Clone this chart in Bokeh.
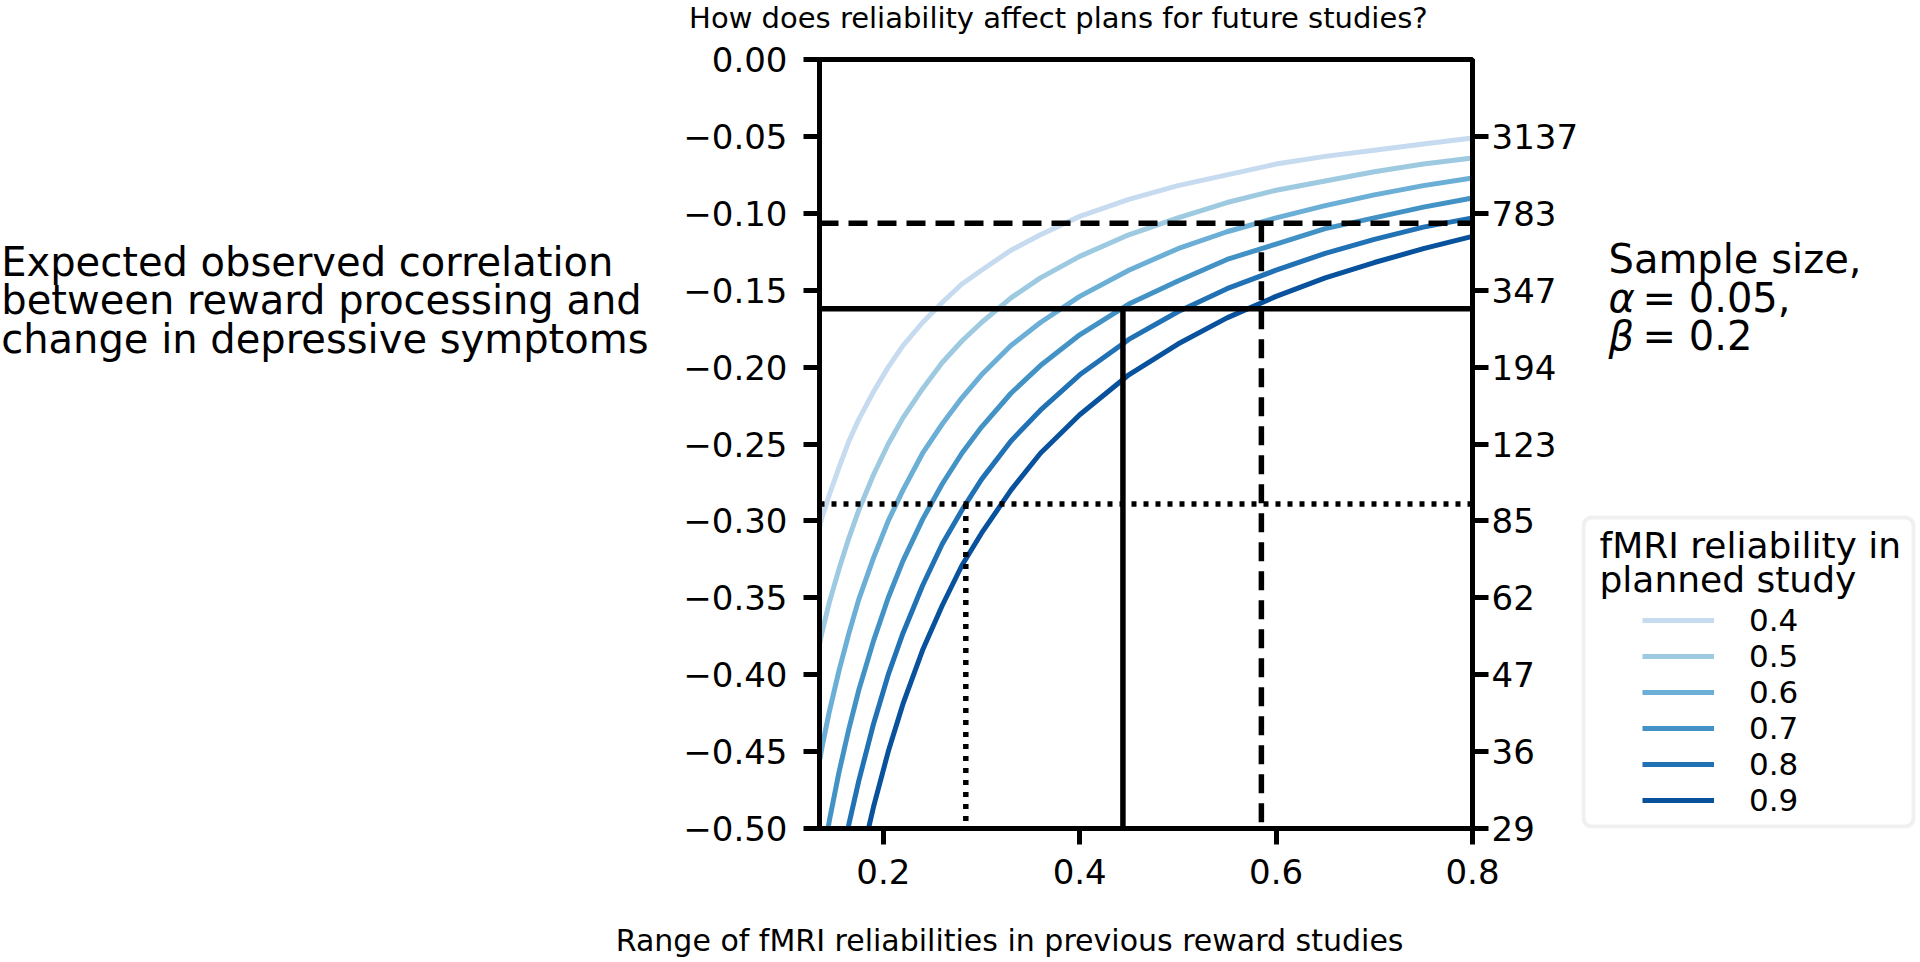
from bokeh.plotting import figure
from bokeh.layouts import row
from bokeh.models import (Range1d, LinearAxis, FixedTicker, Legend, LegendItem,
                          Label, BoxAnnotation)
from bokeh.core.properties import value
from bokeh.embed import file_html
from bokeh.resources import INLINE

# ---------------- data ----------------
prev_reliability = [0.135, 0.137, 0.145, 0.155, 0.165, 0.175, 0.19, 0.205, 0.22, 0.24, 0.26,
                    0.28, 0.30, 0.33, 0.36, 0.40, 0.45, 0.50, 0.55, 0.60, 0.65,
                    0.70, 0.75, 0.80]

corr_rel_04 = [-0.304, -0.299, -0.283, -0.265, -0.248, -0.234, -0.216, -0.200, -0.186, -0.171,
               -0.158, -0.146, -0.137, -0.124, -0.114, -0.102, -0.091, -0.082, -0.075, -0.068,
               -0.063, -0.059, -0.055, -0.051]
corr_rel_05 = [-0.380, -0.374, -0.353, -0.331, -0.311, -0.293, -0.270, -0.250, -0.233, -0.214,
               -0.197, -0.183, -0.171, -0.155, -0.142, -0.128, -0.114, -0.103, -0.093, -0.085,
               -0.079, -0.073, -0.068, -0.064]
corr_rel_06 = [-0.456, -0.449, -0.424, -0.397, -0.373, -0.351, -0.324, -0.300, -0.280, -0.256,
               -0.237, -0.220, -0.205, -0.186, -0.171, -0.154, -0.137, -0.123, -0.112, -0.103,
               -0.095, -0.088, -0.082, -0.077]
corr_rel_07 = [-0.531, -0.524, -0.495, -0.463, -0.435, -0.410, -0.378, -0.350, -0.326, -0.299,
               -0.276, -0.256, -0.239, -0.217, -0.199, -0.179, -0.159, -0.144, -0.130, -0.120,
               -0.110, -0.103, -0.096, -0.090]
corr_rel_08 = [-0.607, -0.599, -0.566, -0.529, -0.497, -0.469, -0.432, -0.400, -0.373, -0.342,
               -0.315, -0.293, -0.273, -0.248, -0.228, -0.205, -0.182, -0.164, -0.149, -0.137,
               -0.126, -0.117, -0.109, -0.103]
corr_rel_09 = [-0.683, -0.673, -0.636, -0.595, -0.559, -0.527, -0.486, -0.450, -0.419, -0.384,
               -0.355, -0.329, -0.308, -0.280, -0.256, -0.231, -0.205, -0.185, -0.168, -0.154,
               -0.142, -0.132, -0.123, -0.115]

planned_labels = ["0.4", "0.5", "0.6", "0.7", "0.8", "0.9"]
curve_colors = ["#c6dbef", "#9ecae1", "#6baed6", "#4292c6", "#2171b5", "#08519c"]

y_ticks = [0.0, -0.05, -0.10, -0.15, -0.20, -0.25, -0.30, -0.35, -0.40, -0.45, -0.50]
y_tick_labels = ["0.00", "\u22120.05", "\u22120.10", "\u22120.15", "\u22120.20", "\u22120.25",
                 "\u22120.30", "\u22120.35", "\u22120.40", "\u22120.45", "\u22120.50"]
n_ticks = [-0.05, -0.10, -0.15, -0.20, -0.25, -0.30, -0.35, -0.40, -0.45, -0.50]
n_tick_labels = ["3137", "783", "347", "194", "123", "85", "62", "47", "36", "29"]
x_ticks = [0.2, 0.4, 0.6, 0.8]
x_tick_labels = ["0.2", "0.4", "0.6", "0.8"]

# reference lines: (correlation level, reliability where it meets a curve)
solid_corr, solid_rel = -0.162, 0.444
dashed_corr, dashed_rel = -0.1065, 0.585
dotted_corr, dotted_rel = -0.289, 0.284

title_text = "How does reliability affect plans for future studies?"
xlabel_text = "Range of fMRI reliabilities in previous reward studies"
ylabel_text = ("Expected observed correlation\n"
               "between reward processing and\n"
               "change in depressive symptoms")
legend_title_lines = ["fMRI reliability in", "planned study"]

X_MIN, X_MAX = 0.135, 0.8
Y_MIN, Y_MAX = -0.5, 0.0

# ---------------- layout (page pixels) ----------------
H = 962
MAIN_R = 1581         # right edge of main figure
FL, FR, FT, FB = 819, 1475, 59, 828   # frame edges (page pixels)
FONT = "DejaVu Sans"


def px_x(page_x):
    return X_MIN + (page_x - FL) * (X_MAX - X_MIN) / (FR - FL)


def px_y(page_y):
    return Y_MAX - (page_y - FT) * (Y_MAX - Y_MIN) / (FB - FT)


# ---------------- main plot ----------------
p = figure(width=MAIN_R, height=H, output_backend="svg", toolbar_location=None,
           x_range=Range1d(X_MIN, X_MAX), y_range=Range1d(Y_MIN, Y_MAX),
           x_axis_location="below", y_axis_location="left",
           min_border_left=FL, min_border_right=MAIN_R - FR,
           min_border_top=FT, min_border_bottom=H - FB)
p.title.visible = False
p.grid.visible = False
p.background_fill_color = "white"
p.border_fill_color = "white"
p.outline_line_color = "black"
p.outline_line_width = 5

right_axis = LinearAxis()
p.add_layout(right_axis, "right")

p.xaxis.ticker = FixedTicker(ticks=x_ticks)
p.xaxis.major_label_overrides = dict(zip(x_ticks, x_tick_labels))
p.yaxis[0].ticker = FixedTicker(ticks=y_ticks)
p.yaxis[0].major_label_overrides = dict(zip(y_ticks, y_tick_labels))
right_axis.ticker = FixedTicker(ticks=n_ticks)
right_axis.major_label_overrides = dict(zip(n_ticks, n_tick_labels))

for ax in [p.xaxis[0], p.yaxis[0], right_axis]:
    ax.axis_line_width = 5
    ax.axis_line_color = "black"
    ax.major_tick_line_width = 5
    ax.major_tick_line_color = "black"
    ax.major_tick_out = 16
    ax.major_tick_in = 0
    ax.minor_tick_line_color = None
    ax.major_label_text_font = FONT
    ax.major_label_text_font_size = "34px"
    ax.major_label_text_color = "black"
p.xaxis.major_label_standoff = 14
p.yaxis[0].major_label_standoff = 16
right_axis.major_label_standoff = 3

series = [corr_rel_04, corr_rel_05, corr_rel_06, corr_rel_07, corr_rel_08, corr_rel_09]
for vals, col in zip(series, curve_colors):
    p.line(prev_reliability, vals, line_color=col, line_width=5)

for corr, rel, dash in [(dashed_corr, dashed_rel, "19 10"),
                        (solid_corr, solid_rel, "solid"),
                        (dotted_corr, dotted_rel, "5 7")]:
    p.line([X_MIN, X_MAX], [corr, corr], line_color="black", line_width=5.5, line_dash=dash)
    p.line([rel, rel], [corr, Y_MIN], line_color="black", line_width=5.5, line_dash=dash)


def side_label(text, page_x, page_y, size, side, align="left", line_height=1.2):
    p.add_layout(Label(x=px_x(page_x), y=px_y(page_y), text=text, text_font=FONT,
                       text_font_size=size, text_color="black", text_align=align,
                       text_baseline="middle", text_line_height=line_height), side)


side_label(title_text, 688, 17, "29px", "above")
side_label(xlabel_text, 1010, 940, "30px", "below", align="center")
side_label(ylabel_text, -3, 300, "40px", "left", line_height=0.83)

# ---------------- right text + legend panel ----------------
RW = 1920 - MAIN_R
rf = figure(width=RW, height=H, output_backend="svg", toolbar_location=None,
            x_range=Range1d(0, RW), y_range=Range1d(FB, FT),
            x_axis_location=None, y_axis_location=None, min_border=0)
rf.grid.visible = False
rf.outline_line_color = None
rf.background_fill_color = "white"
rf.border_fill_color = "white"


def rx(page_x):
    return page_x - MAIN_R


rf.text(x=[rx(1608)], y=[258], text=["Sample size,"], text_font=value(FONT),
        text_font_size=value("40px"), text_color="black", text_baseline="middle")
rf.text(x=[rx(1608), rx(1608)], y=[297, 335], text=["\u03b1", "\u03b2"], text_font=value(FONT),
        text_font_size=value("40px"), text_font_style="italic", text_color="black",
        text_baseline="middle")
rf.text(x=[rx(1642), rx(1642)], y=[297, 335], text=["= 0.05,", "= 0.2"], text_font=value(FONT),
        text_font_size=value("40px"), text_color="black", text_baseline="middle")

box = BoxAnnotation(left=rx(1583), right=rx(1913), top=517, bottom=826,
                    fill_color="white", fill_alpha=1.0, line_color="#cccccc",
                    line_width=4, level="underlay")
try:
    box.border_radius = 8
except Exception:
    pass
rf.add_layout(box)

rf.text(x=[rx(1599), rx(1599)], y=[545, 579], text=legend_title_lines,
        text_font=value(FONT), text_font_size=value("36px"), text_color="black",
        text_baseline="middle")

leg_renderers = [rf.line(x=[-100, -90], y=[-100, -100], line_color=c, line_width=5)
                 for c in curve_colors]
legend = Legend(items=[LegendItem(label=lbl, renderers=[r])
                       for lbl, r in zip(planned_labels, leg_renderers)],
                location=(rx(1642), FB - 818), orientation="vertical",
                border_line_alpha=0, background_fill_alpha=0, padding=0, margin=0,
                spacing=0, glyph_width=72, glyph_height=36, label_height=36,
                label_standoff=35, label_text_font=FONT, label_text_font_size="31px",
                label_text_color="black", label_text_baseline="middle")
rf.add_layout(legend)

layout = row(p, rf)
open("out.html", "w").write(file_html(layout, INLINE))
